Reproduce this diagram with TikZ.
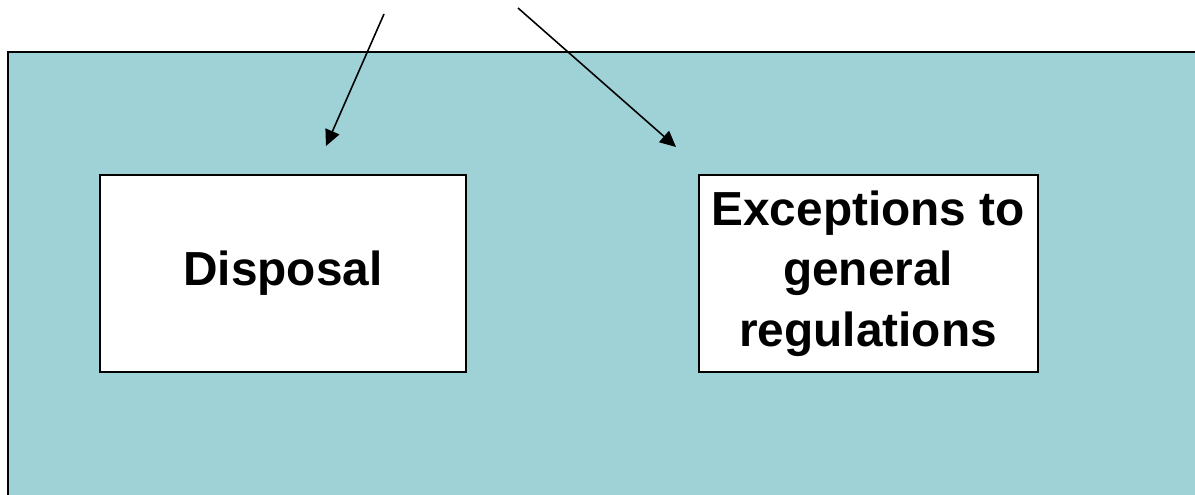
\documentclass[tikz,border=0pt]{standalone}
\usepackage{fontspec}
\setmainfont{Liberation Sans}
\usetikzlibrary{positioning, arrows.meta}
\definecolor{panelteal}{HTML}{9ED2D6}

\begin{document}
\begin{tikzpicture}[x=0.02cm, y=-0.02cm, node distance=4.62cm,
	topic/.style={draw, line width=1pt, fill=white, align=center, minimum height=3.94cm,
		font=\fontsize{27.2}{34.5}\selectfont\bfseries},
	pointer/.style={line width=0.9pt, -{Triangle[length=0.32cm, width=0.3cm]}}]
			\useasboundingbox (0,0) rectangle (1195,494);
			\clip (0,0) rectangle (1195,494);
			\draw[fill=panelteal, line width=1.4pt] (8,52) rectangle (1210,510);
			\node[topic, minimum width=7.32cm] (disp) at (283,273.5) {Disposal};
			\node[topic, minimum width=6.78cm, right=of disp] (exc) {Exceptions to\\general\\regulations};
			\coordinate (s1) at (384,14);
			\coordinate (t1) at (326,146);
			\coordinate (s2) at (518,8);
			\coordinate (t2) at (676,147);
			\draw[pointer] (s1) -- (t1);
			\draw[pointer] (s2) -- (t2);
		\end{tikzpicture}
\end{document}
